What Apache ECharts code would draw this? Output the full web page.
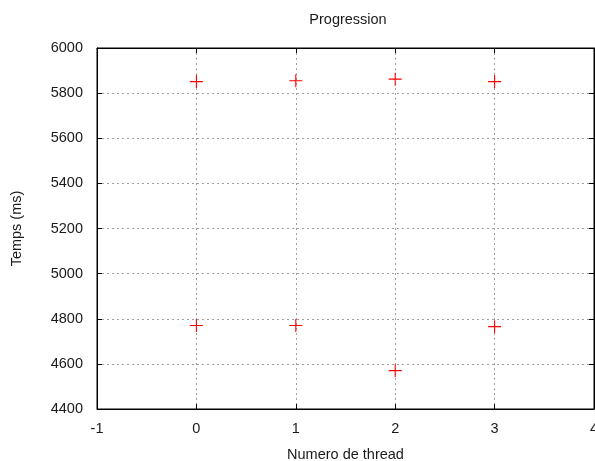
<!DOCTYPE html>
<html>
<head>
<meta charset="utf-8">
<script src="https://cdn.jsdelivr.net/npm/echarts@6/dist/echarts.min.js"></script>
<style>
  html, body { margin: 0; padding: 0; background: #fff; }
  #chart { width: 595px; height: 461px; }
</style>
</head>
<body>
<div id="chart"></div>
<script>
// Thread index and measured time (ms) for each run
const threads = [0, 1, 2, 3, 0, 1, 2, 3];
const tempsMs = [5851, 5855, 5862, 5851, 4770, 4770, 4570, 4765];

const xTicks = { min: -1, max: 4, interval: 1 };
const yTicks = { min: 4400, max: 6000, interval: 200 };

const points = threads.map((t, i) => [t, tempsMs[i]]);

const FONT = '"Liberation Sans", Arial, sans-serif';
const FS = 14.5;
const TXT = '#1a1a1a';
const plusSymbol = 'path://M0,5.5h12v1h-12z M5.5,0h1v12h-1z';

const chart = echarts.init(document.getElementById('chart'));

const tickStyle = { show: true, inside: true, length: 5, lineStyle: { color: '#000', width: 1 } };
const gridLine = { show: true, lineStyle: { color: '#a0a0a0', type: [2, 3], width: 1 } };
const plain = v => String(v);

chart.setOption({
  animation: false,
  backgroundColor: '#fff',
  title: {
    text: 'Progression',
    left: 343, top: 7, textAlign: 'center',
    textStyle: { fontFamily: FONT, fontSize: FS, fontWeight: 'normal', color: TXT }
  },
  grid: {
    left: 97, right: 1, top: 48, bottom: 52,
    outerBoundsMode: 'none', containLabel: false,
    show: true, borderColor: '#000', borderWidth: 1, backgroundColor: 'transparent'
  },
  xAxis: [{
    type: 'value', min: xTicks.min, max: xTicks.max, interval: xTicks.interval,
    name: 'Numero de thread', nameLocation: 'middle', nameGap: 38,
    nameTextStyle: { fontFamily: FONT, fontSize: FS, color: TXT },
    axisLine: { show: true, onZero: false, lineStyle: { color: '#000' } },
    axisTick: tickStyle,
    axisLabel: { fontFamily: FONT, fontSize: FS, color: TXT, margin: 12, formatter: plain },
    splitLine: gridLine
  }, {
    type: 'value', position: 'top', min: xTicks.min, max: xTicks.max, interval: xTicks.interval,
    axisLine: { show: true, onZero: false, lineStyle: { color: '#000' } },
    axisTick: tickStyle, axisLabel: { show: false }, splitLine: { show: false }
  }],
  yAxis: [{
    type: 'value', min: yTicks.min, max: yTicks.max, interval: yTicks.interval,
    name: 'Temps (ms)', nameLocation: 'middle', nameGap: 73, nameRotate: 90,
    nameTextStyle: { fontFamily: FONT, fontSize: FS, color: TXT },
    axisLine: { show: true, onZero: false, lineStyle: { color: '#000' } },
    axisTick: tickStyle,
    axisLabel: { fontFamily: FONT, fontSize: FS, color: TXT, margin: 14, formatter: plain },
    splitLine: gridLine
  }, {
    type: 'value', position: 'right', min: yTicks.min, max: yTicks.max, interval: yTicks.interval,
    axisLine: { show: true, onZero: false, lineStyle: { color: '#000' } },
    axisTick: tickStyle, axisLabel: { show: false }, splitLine: { show: false }
  }],
  series: [{
    type: 'scatter',
    data: points,
    symbol: plusSymbol,
    symbolSize: 13,
    itemStyle: { color: '#ff0000', opacity: 1 }
  }]
});
</script>
</body>
</html>
